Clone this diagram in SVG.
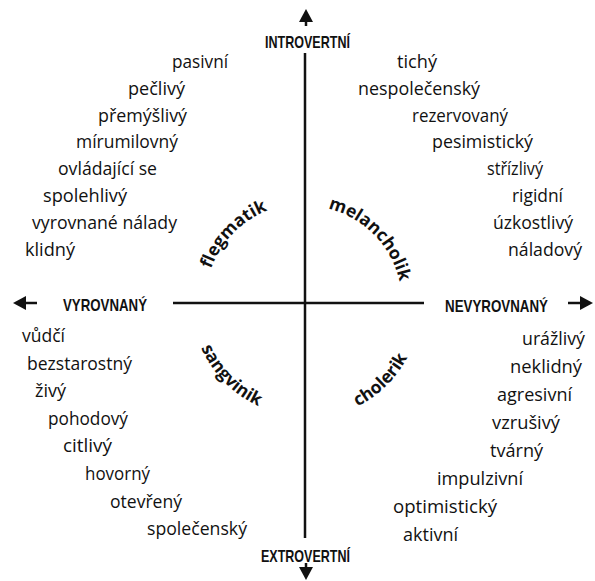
<svg xmlns="http://www.w3.org/2000/svg" xmlns:xlink="http://www.w3.org/1999/xlink" width="595" height="581" viewBox="0 0 595 581">
<style>
.w{font-family:"Open Sans","Liberation Sans",sans-serif;font-size:18.4px;fill:#111}
.ax{font-family:"Liberation Sans",Arial,sans-serif;font-weight:bold;font-size:17px;fill:#111}
.t{font-family:"Open Sans","Liberation Sans",sans-serif;font-weight:bold;font-size:17.5px;fill:#111}
.ln{stroke:#111;stroke-width:2.5;fill:none}
.ah{fill:#111}
</style>
<defs>
<path id="pF" d="M208.9,330.6 A100,100 0 0 1 329.2,206.0"/>
<path id="pM" d="M280.7,209.1 A97,97 0 0 1 398.5,328.9"/>
<path id="pS" d="M196.1,272.8 A113,113 0 0 0 333.3,412.4"/>
<path id="pC" d="M274.0,414.8 A116,116 0 0 0 417.3,274.0"/>
</defs>
<rect width="595" height="581" fill="#fff"/>
<g id="connectors">
<line class="ln" x1="305" y1="53" x2="305" y2="538"/>
<line class="ln" x1="173" y1="303" x2="424" y2="303"/>
<g id="arrow-up"><line class="ln" x1="306" y1="20" x2="306" y2="26" stroke-width="3"/><polygon class="ah" points="306,9 299,22 313,22"/></g>
<g id="arrow-down"><line class="ln" x1="306" y1="563" x2="306" y2="570" stroke-width="3"/><polygon class="ah" points="306,580 299,567 313,567"/></g>
<g id="arrow-left"><line class="ln" x1="24" y1="303" x2="37" y2="303" stroke-width="3"/><polygon class="ah" points="13,303 26,296 26,310"/></g>
<g id="arrow-right"><line class="ln" x1="568" y1="303" x2="582" y2="303" stroke-width="3"/><polygon class="ah" points="593,303 580,296 580,310"/></g>
</g>
<g id="axis-labels">
<text class="ax" x="265" y="48" textLength="85" lengthAdjust="spacingAndGlyphs">INTROVERTNÍ</text>
<text class="ax" x="261" y="562" textLength="89" lengthAdjust="spacingAndGlyphs">EXTROVERTNÍ</text>
<text class="ax" x="63" y="311" textLength="84" lengthAdjust="spacingAndGlyphs">VYROVNANÝ</text>
<text class="ax" x="445" y="312" textLength="103" lengthAdjust="spacingAndGlyphs">NEVYROVNANÝ</text>
</g>
<g id="flegmatik">
<text class="t"><textPath xlink:href="#pF" href="#pF" startOffset="50%" text-anchor="middle">flegmatik</textPath></text>
<text class="w" x="172" y="68" textLength="56" lengthAdjust="spacingAndGlyphs">pasivní</text>
<text class="w" x="128" y="94.8" textLength="57" lengthAdjust="spacingAndGlyphs">pečlivý</text>
<text class="w" x="98" y="121.6" textLength="89" lengthAdjust="spacingAndGlyphs">přemýšlivý</text>
<text class="w" x="76" y="148.4" textLength="102" lengthAdjust="spacingAndGlyphs">mírumilovný</text>
<text class="w" x="58" y="175.2" textLength="99" lengthAdjust="spacingAndGlyphs">ovládající se</text>
<text class="w" x="43" y="202" textLength="84" lengthAdjust="spacingAndGlyphs">spolehlivý</text>
<text class="w" x="32" y="228.8" textLength="145" lengthAdjust="spacingAndGlyphs">vyrovnané nálady</text>
<text class="w" x="25" y="255.6" textLength="50" lengthAdjust="spacingAndGlyphs">klidný</text>
</g>
<g id="melancholik">
<text class="t"><textPath xlink:href="#pM" href="#pM" startOffset="50%" text-anchor="middle">melancholik</textPath></text>
<text class="w" x="397" y="68" textLength="40" lengthAdjust="spacingAndGlyphs">tichý</text>
<text class="w" x="358" y="94.8" textLength="122" lengthAdjust="spacingAndGlyphs">nespolečenský</text>
<text class="w" x="412" y="121.6" textLength="96" lengthAdjust="spacingAndGlyphs">rezervovaný</text>
<text class="w" x="432" y="148.4" textLength="101" lengthAdjust="spacingAndGlyphs">pesimistický</text>
<text class="w" x="487" y="175.2" textLength="56" lengthAdjust="spacingAndGlyphs">střízlivý</text>
<text class="w" x="512" y="202" textLength="51" lengthAdjust="spacingAndGlyphs">rigidní</text>
<text class="w" x="493" y="228.8" textLength="80" lengthAdjust="spacingAndGlyphs">úzkostlivý</text>
<text class="w" x="508" y="255.6" textLength="74" lengthAdjust="spacingAndGlyphs">náladový</text>
</g>
<g id="sangvinik">
<text class="t"><textPath xlink:href="#pS" href="#pS" startOffset="50%" text-anchor="middle">sangvinik</textPath></text>
<text class="w" x="22" y="342" textLength="43" lengthAdjust="spacingAndGlyphs">vůdčí</text>
<text class="w" x="27" y="369.6" textLength="105" lengthAdjust="spacingAndGlyphs">bezstarostný</text>
<text class="w" x="35" y="397.2" textLength="31" lengthAdjust="spacingAndGlyphs">živý</text>
<text class="w" x="48" y="424.8" textLength="80" lengthAdjust="spacingAndGlyphs">pohodový</text>
<text class="w" x="63" y="452.4" textLength="49" lengthAdjust="spacingAndGlyphs">citlivý</text>
<text class="w" x="85" y="480" textLength="65" lengthAdjust="spacingAndGlyphs">hovorný</text>
<text class="w" x="110" y="507.6" textLength="72" lengthAdjust="spacingAndGlyphs">otevřený</text>
<text class="w" x="147" y="535.2" textLength="100" lengthAdjust="spacingAndGlyphs">společenský</text>
</g>
<g id="cholerik">
<text class="t"><textPath xlink:href="#pC" href="#pC" startOffset="50%" text-anchor="middle">cholerik</textPath></text>
<text class="w" x="522" y="345" textLength="63" lengthAdjust="spacingAndGlyphs">urážlivý</text>
<text class="w" x="510" y="373" textLength="72" lengthAdjust="spacingAndGlyphs">neklidný</text>
<text class="w" x="497" y="401" textLength="75" lengthAdjust="spacingAndGlyphs">agresivní</text>
<text class="w" x="492" y="429" textLength="68" lengthAdjust="spacingAndGlyphs">vzrušivý</text>
<text class="w" x="490" y="457" textLength="53" lengthAdjust="spacingAndGlyphs">tvárný</text>
<text class="w" x="437" y="485" textLength="86" lengthAdjust="spacingAndGlyphs">impulzivní</text>
<text class="w" x="393" y="513" textLength="104" lengthAdjust="spacingAndGlyphs">optimistický</text>
<text class="w" x="403" y="541" textLength="55" lengthAdjust="spacingAndGlyphs">aktivní</text>
</g>
</svg>
